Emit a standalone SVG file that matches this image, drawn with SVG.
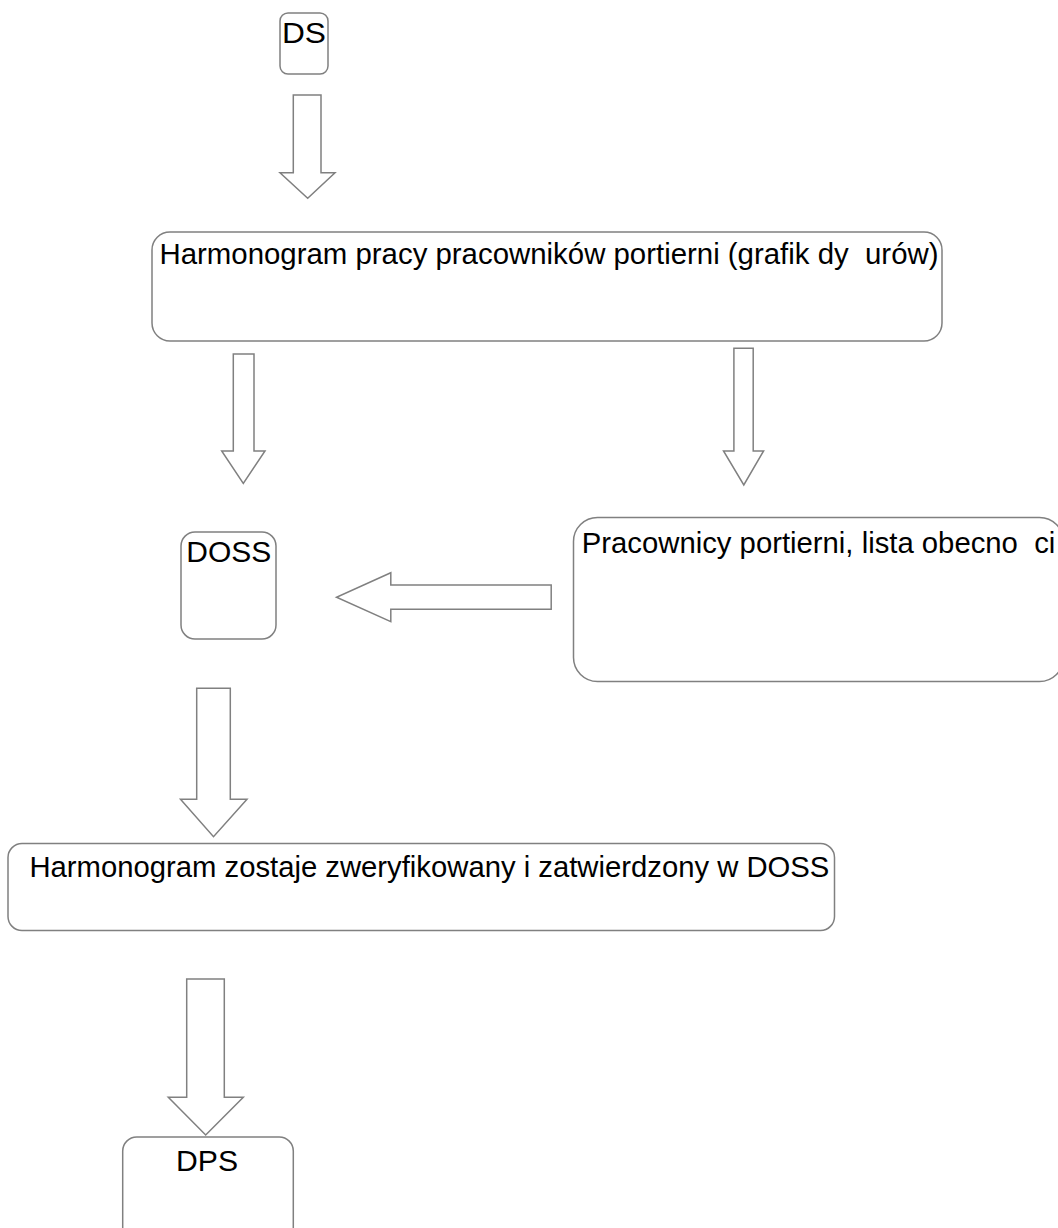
<svg xmlns="http://www.w3.org/2000/svg" width="1058" height="1228" viewBox="0 0 1058 1228">
<style>
.box{fill:#ffffff;stroke:#808080;stroke-width:1.5}
.arr{fill:#ffffff;stroke:#808080;stroke-width:1.5;stroke-linejoin:miter}
.t{font-family:"Liberation Sans",Arial,sans-serif;font-size:29px;fill:#000000;white-space:pre}
</style>
<rect width="1058" height="1228" fill="#ffffff"/>
<g id="connectors">
<path class="arr" d="M293.3,95 H321 V172.7 H335 L307.7,198.3 L280,172.7 H293.3 Z"/>
<path class="arr" d="M233.3,354 H254 V451 H265 L243.3,483.3 L221.7,451 H233.3 Z"/>
<path class="arr" d="M733.9,348.3 H753.2 V451 H763.6 L743.8,485 L723.5,451 H733.9 Z"/>
<path class="arr" d="M551.2,585 V609.3 H390.8 V621.7 L336.5,597.3 L390.8,572.7 V585 Z"/>
<path class="arr" d="M196.7,688.3 H230.3 V799.3 H247 L213.5,836.7 L180.5,799.3 H196.7 Z"/>
<path class="arr" d="M186.7,979 H224.3 V1097.3 H243.3 L205.7,1135 L168.3,1097.3 H186.7 Z"/>
</g>
<g id="node-ds">
<rect class="box" x="280" y="13" width="48" height="61" rx="8"/>
<text class="t" x="282" y="42.5" textLength="44" lengthAdjust="spacingAndGlyphs">DS</text>
</g>
<g id="node-harmonogram">
<rect class="box" x="152" y="232" width="790" height="109" rx="18"/>
<text class="t" x="159.5" y="264" textLength="779" lengthAdjust="spacingAndGlyphs" xml:space="preserve">Harmonogram pracy pracowników portierni (grafik dy  urów)</text>
</g>
<g id="node-doss">
<rect class="box" x="181" y="532" width="95" height="107" rx="14"/>
<text class="t" x="186.3" y="562" textLength="85" lengthAdjust="spacingAndGlyphs">DOSS</text>
</g>
<g id="node-pracownicy">
<rect class="box" x="573.5" y="517.5" width="490" height="164" rx="24"/>
<text class="t" x="581.8" y="552.5" textLength="473.5" lengthAdjust="spacingAndGlyphs" xml:space="preserve">Pracownicy portierni, lista obecno  ci</text>
</g>
<g id="node-zatwierdzony">
<rect class="box" x="8" y="843.5" width="826.5" height="87" rx="14"/>
<text class="t" x="29.4" y="877" textLength="800" lengthAdjust="spacingAndGlyphs">Harmonogram zostaje zweryfikowany i zatwierdzony w DOSS</text>
</g>
<g id="node-dps">
<rect class="box" x="122.7" y="1137" width="170.6" height="120" rx="14"/>
<text class="t" x="176" y="1171" textLength="62" lengthAdjust="spacingAndGlyphs">DPS</text>
</g>
</svg>
